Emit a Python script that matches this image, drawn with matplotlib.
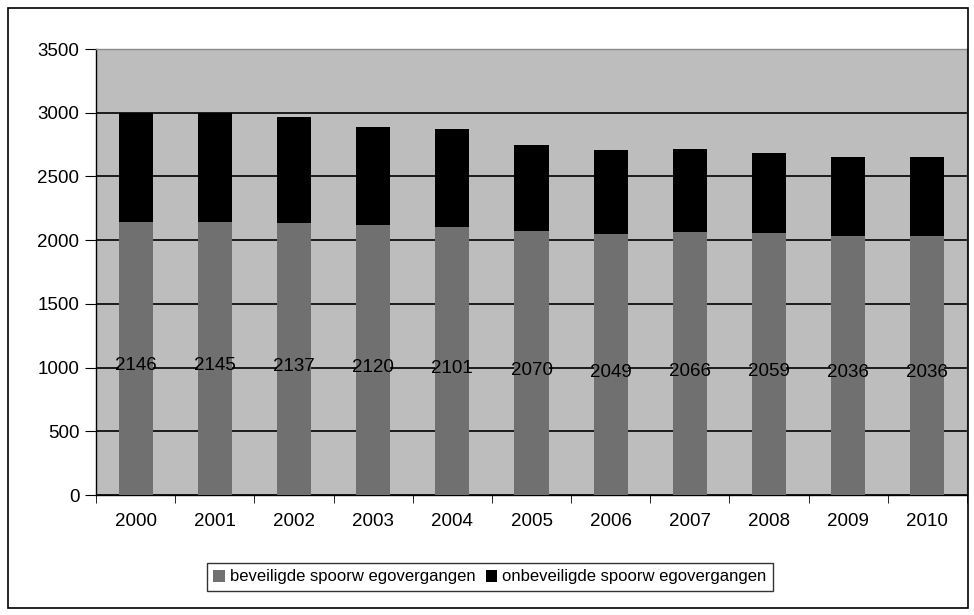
import matplotlib.pyplot as plt
import numpy as np
from matplotlib.patches import Rectangle

plt.rcParams['font.family'] = ['Liberation Sans', 'DejaVu Sans']

years = ['2000', '2001', '2002', '2003', '2004', '2005', '2006', '2007', '2008', '2009', '2010']
beveiligd = [2146, 2145, 2137, 2120, 2101, 2070, 2049, 2066, 2059, 2036, 2036]
onbeveiligd = [853, 852, 833, 770, 774, 680, 656, 649, 626, 616, 614]

fig = plt.figure(figsize=(9.74, 6.15), dpi=100)
# outer chart border
fig.patches.append(Rectangle((8 / 974, 7 / 615), 960 / 974, 600 / 615, transform=fig.transFigure,
                             fill=False, edgecolor='black', linewidth=1.2))

ax = fig.add_axes([96 / 974, 1 - 495 / 615, 871 / 974, 446 / 615])
ax.set_facecolor('#bdbdbd')

x = np.arange(len(years))
ax.bar(x, beveiligd, width=0.43, color='#707070', label='beveiligde spoorw egovergangen', zorder=3)
ax.bar(x, onbeveiligd, width=0.43, bottom=beveiligd, color='black',
       label='onbeveiligde spoorw egovergangen', zorder=3)

for xi, v in zip(x, beveiligd):
    ax.text(xi, v / 2 - 60, str(v), ha='center', va='center', fontsize=13.5, zorder=4)

ax.set_ylim(0, 3500)
ax.set_xlim(-0.5, len(years) - 0.5)
ax.set_yticks(range(0, 3501, 500))
ax.yaxis.grid(True, color='black', linewidth=1.2, zorder=1)
ax.get_ygridlines()[-1].set_visible(False)
ax.set_axisbelow(True)

ax.set_xticks(x)
ax.set_xticklabels(years, fontsize=13.5)
ax.set_xticks(np.arange(-0.5, len(years), 1), minor=True)
ax.tick_params(axis='x', which='major', length=0, pad=13)
ax.tick_params(axis='x', which='minor', length=6, direction='out')
ax.tick_params(axis='y', length=8, direction='out', labelsize=13.5, pad=4)

for s in ['top', 'right']:
    ax.spines[s].set_color('#8a8a8a')
    ax.spines[s].set_linewidth(1.0)
ax.spines['left'].set_linewidth(1.0)
ax.spines['bottom'].set_linewidth(1.0)

leg = fig.legend(loc='center', bbox_to_anchor=(490 / 974, 1 - 577 / 615), ncol=2, fontsize=12,
                 frameon=True, fancybox=False, edgecolor='black', handlelength=0.7, handleheight=0.7,
                 handletextpad=0.3, columnspacing=0.6, borderpad=0.4)
leg.get_frame().set_linewidth(1.0)

fig.savefig('out.png', dpi=100)
